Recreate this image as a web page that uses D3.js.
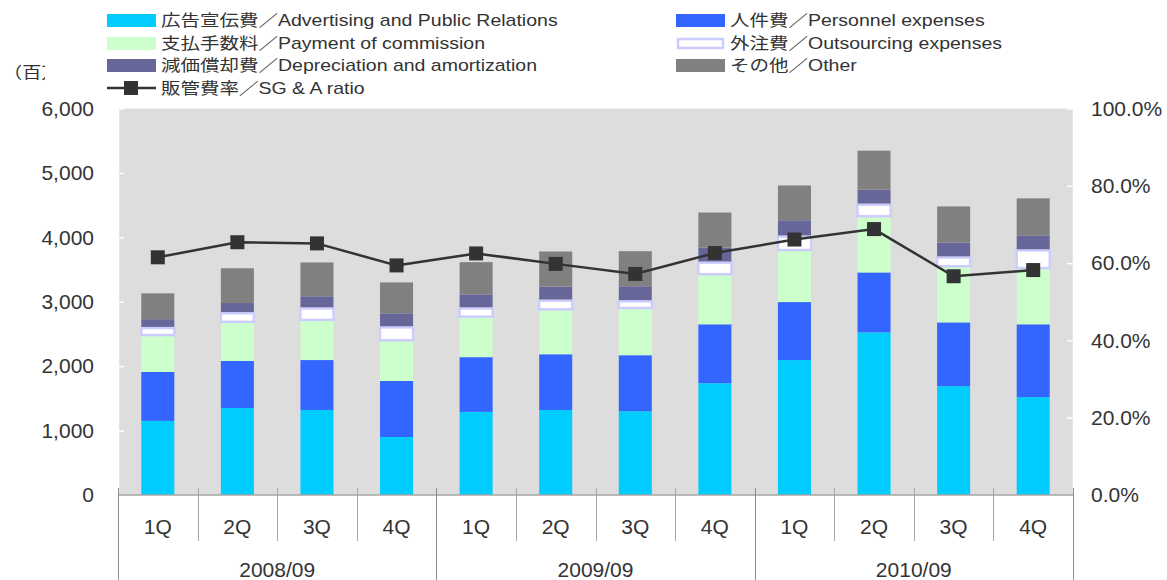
<!DOCTYPE html>
<html><head><meta charset="utf-8">
<script src="https://cdn.jsdelivr.net/npm/d3@7"></script>
<style>
html,body{margin:0;padding:0;background:#fff;}
svg{display:block;}
text{font-family:"Liberation Sans",Arial,"Noto Sans CJK JP",sans-serif;fill:#333;}
</style></head>
<body>
<svg id="chart" width="1167" height="580"></svg>
<script>
// ---- data ----
const years = ["2008/09", "2009/09", "2010/09"];
const quarters = ["1Q", "2Q", "3Q", "4Q"];
const advertising  = [1150, 1350, 1320, 900, 1290, 1320, 1300, 1735, 2095, 2525, 1690, 1520];
const personnel    = [760, 730, 775, 870, 850, 865, 870, 915, 900, 930, 990, 1130];
const commission   = [555, 590, 605, 615, 610, 680, 715, 760, 790, 855, 855, 855];
const outsourcing  = [145, 170, 215, 235, 165, 170, 140, 215, 245, 215, 170, 310];
const depreciation = [120, 140, 170, 200, 200, 200, 215, 215, 235, 215, 215, 215];
const other        = [400, 540, 525, 480, 500, 545, 545, 545, 540, 605, 560, 575];
const sgaRatio     = [61.5, 65.4, 65.1, 59.4, 62.5, 59.8, 57.2, 62.6, 66.1, 68.8, 56.6, 58.2];
const leftTicks  = [0, 1000, 2000, 3000, 4000, 5000, 6000];
const rightTicks = [0, 20, 40, 60, 80, 100];
const seriesNames = [
  "広告宣伝費／Advertising and Public Relations",
  "人件費／Personnel expenses",
  "支払手数料／Payment of commission",
  "外注費／Outsourcing expenses",
  "減価償却費／Depreciation and amortization",
  "その他／Other"
];
const lineName = "販管費率／SG & A ratio";
const unitLabel = "（百万円）";

// ---- build ----
const keys = ["adv","per","com","out","dep","oth"];
const colors = {adv:"#00CCFF", per:"#3366FF", com:"#CCFFCC", out:"#FFFFFF", dep:"#666699", oth:"#808080"};
const cats = [];
years.forEach(y => quarters.forEach(q => cats.push(y + "|" + q)));
const rows = cats.map((c, i) => ({cat:c, adv:advertising[i], per:personnel[i], com:commission[i],
  out:outsourcing[i], dep:depreciation[i], oth:other[i], ratio:sgaRatio[i]}));

const svg = d3.select("#chart");
const L = 118, R = 1073, T = 108.5, B = 495;

const x = d3.scaleBand().domain(cats).range([L, R]).paddingInner(0.585).paddingOuter(0.2925);
const xb = d3.scaleBand().domain(cats).range([L, R]);
const y = d3.scaleLinear().domain([0, 6000]).range([B, T]);
const y2 = d3.scaleLinear().domain([0, 100]).range([B, T]);

// plot background
svg.append("rect").attr("x", L).attr("y", T).attr("width", R - L).attr("height", B - T).attr("fill", "#DDDDDD");

// stacked bars
const stack = d3.stack().keys(keys)(rows);
stack.forEach(layer => {
  const k = layer.key;
  svg.append("g").selectAll("rect").data(layer).join("rect")
    .attr("x", d => x(d.data.cat))
    .attr("width", x.bandwidth())
    .attr("y", d => y(d[1]) + (k === "out" ? 1.2 : 0))
    .attr("height", d => Math.max(0, y(d[0]) - y(d[1]) - (k === "out" ? 2.4 : 0)))
    .attr("fill", colors[k])
    .attr("stroke", k === "out" ? "#CCCCFF" : "none")
    .attr("stroke-width", k === "out" ? 2.4 : 0);
});

// left axis
const ax = svg.append("g").attr("transform", `translate(${L},0)`)
  .call(d3.axisLeft(y).tickValues(leftTicks).tickFormat(d3.format(",")).tickSizeInner(-6).tickSizeOuter(0).tickPadding(24));
ax.select(".domain").attr("stroke", "#FFFFFF").attr("stroke-width", 1.5);
ax.selectAll(".tick line").attr("stroke", "#FFFFFF").attr("stroke-width", 1.5);
ax.selectAll(".tick text").attr("font-size", 21).attr("fill", "#333").style("font-family", '"Liberation Sans",Arial,sans-serif');

// right axis
const ay = svg.append("g").attr("transform", `translate(${R},0)`)
  .call(d3.axisRight(y2).tickValues(rightTicks).tickFormat(d => d3.format(".1f")(d) + "%").tickSizeInner(-6).tickSizeOuter(0).tickPadding(18));
ay.select(".domain").attr("stroke", "#FFFFFF").attr("stroke-width", 1.5);
ay.selectAll(".tick line").attr("stroke", "#FFFFFF").attr("stroke-width", 1.5);
ay.selectAll(".tick text").attr("font-size", 21).attr("fill", "#333").style("font-family", '"Liberation Sans",Arial,sans-serif');

// category axis
const cax = svg.append("g");
cax.append("line").attr("x1", L).attr("x2", R).attr("y1", B).attr("y2", B).attr("stroke", "#A6A6A6").attr("stroke-width", 1.5);
cats.forEach((c, i) => {
  const bx = Math.round(xb(c)) + 0.5;
  const isGroup = i % 4 === 0;
  cax.append("line").attr("x1", bx).attr("x2", bx).attr("y1", B - 7).attr("y2", isGroup ? 580 : 541)
    .attr("stroke", isGroup ? "#8C8C8C" : "#A6A6A6").attr("stroke-width", 1);
  cax.append("text").attr("x", xb(c) + xb.bandwidth() / 2).attr("y", 527).attr("dy", "0.35em")
    .attr("text-anchor", "middle").attr("font-size", 21).text(c.split("|")[1]);
});
const lastX = Math.round(R) + 0.5;
cax.append("line").attr("x1", lastX).attr("x2", lastX).attr("y1", B - 7).attr("y2", 580).attr("stroke", "#8C8C8C");
years.forEach((yr, j) => {
  const x0 = xb(yr + "|1Q"), x1 = xb(yr + "|4Q") + xb.bandwidth();
  cax.append("text").attr("x", (x0 + x1) / 2).attr("y", 570).attr("dy", "0.35em")
    .attr("text-anchor", "middle").attr("font-size", 21).text(yr);
});

// ratio line
const line = d3.line().x(d => xb(d.cat) + xb.bandwidth() / 2).y(d => y2(d.ratio));
svg.append("path").datum(rows).attr("d", line).attr("fill", "none").attr("stroke", "#333333").attr("stroke-width", 2.5);
svg.append("g").selectAll("rect").data(rows).join("rect")
  .attr("x", d => xb(d.cat) + xb.bandwidth() / 2 - 7).attr("y", d => y2(d.ratio) - 7)
  .attr("width", 14).attr("height", 14).attr("fill", "#333333");

// unit label (partly hidden by legend)
svg.append("text").attr("transform", "translate(3,72) scale(1.2,1)").attr("dy", "0.35em")
  .attr("font-size", 16).text(unitLabel);

// legend
const lg = svg.append("g");
lg.append("rect").attr("x", 45).attr("y", 2).attr("width", 980).attr("height", 100).attr("fill", "#FFFFFF");
const legendItems = [
  {k:"adv", col:0, row:0}, {k:"per", col:1, row:0},
  {k:"com", col:0, row:1}, {k:"out", col:1, row:1},
  {k:"dep", col:0, row:2}, {k:"oth", col:1, row:2}
];
const colX = [107, 676];
const rowY = [20.5, 43.5, 65.5, 88];
legendItems.forEach((it, i) => {
  const sx = colX[it.col], cy = rowY[it.row];
  if (it.k === "out") {
    lg.append("rect").attr("x", sx + 2).attr("y", cy - 4.5).attr("width", 45).attr("height", 9)
      .attr("fill", "#FFFFFF").attr("stroke", "#CCCCFF").attr("stroke-width", 2.5);
  } else {
    lg.append("rect").attr("x", sx).attr("y", cy - 6.5).attr("width", 49).attr("height", 13).attr("fill", colors[it.k]);
  }
  lg.append("text").attr("transform", `translate(${sx + 54},${cy}) scale(1.22,1)`).attr("dy", "0.35em")
    .attr("font-size", 16).text(seriesNames[keys.indexOf(it.k)]);
});
lg.append("line").attr("x1", 107).attr("x2", 156).attr("y1", rowY[3]).attr("y2", rowY[3]).attr("stroke", "#333").attr("stroke-width", 2.5);
lg.append("rect").attr("x", 124).attr("y", rowY[3] - 7).attr("width", 14).attr("height", 14).attr("fill", "#333");
lg.append("text").attr("transform", `translate(161,${rowY[3]}) scale(1.22,1)`).attr("dy", "0.35em")
  .attr("font-size", 16).text(lineName);
</script>
</body></html>
